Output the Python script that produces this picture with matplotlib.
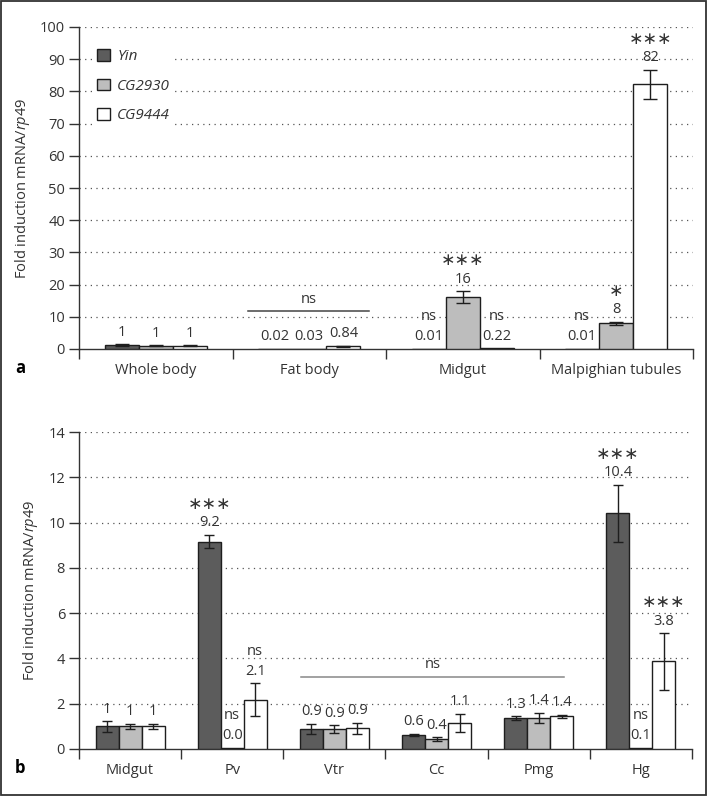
import matplotlib
matplotlib.use("Agg")
import matplotlib.pyplot as plt
from matplotlib.patches import Rectangle, Patch
import numpy as np

plt.rcParams['font.family'] = ['Open Sans', 'DejaVu Sans']
plt.rcParams['mathtext.fontset'] = 'custom'
plt.rcParams['mathtext.rm'] = 'Open Sans'
plt.rcParams['mathtext.it'] = 'Open Sans:italic'

series = ['Yin', 'CG2930', 'CG9444']
colors = ['#5c5c5c', '#bdbdbd', '#ffffff']

# Panel a
cats_a = ['Whole body', 'Fat body', 'Midgut', 'Malpighian tubules']
vals_a = [[1.3, 0.02, 0.01, 0.01],
          [1.0, 0.03, 16.1, 8.0],
          [1.0, 0.84, 0.22, 82.2]]
errs_a = [[0.25, 0.0, 0.0, 0.0],
          [0.15, 0.0, 1.8, 0.5],
          [0.15, 0.2, 0.0, 4.5]]
labels_a = [['1', '0.02', '0.01', '0.01'],
            ['1', '0.03', '16', '8'],
            ['1', '0.84', '0.22', '82']]
sig_a = [['', '', 'ns', 'ns'],
         ['', '', '***', '*'],
         ['', '', 'ns', '***']]
ns_line_a = (0.60, 1.39, 11.8)

# Panel b
cats_b = ['Midgut', 'Pv', 'Vtr', 'Cc', 'Pmg', 'Hg']
vals_b = [[1.0, 9.16, 0.9, 0.63, 1.37, 10.41],
          [1.0, 0.05, 0.88, 0.44, 1.37, 0.05],
          [1.0, 2.17, 0.92, 1.15, 1.45, 3.87]]
errs_b = [[0.23, 0.3, 0.22, 0.05, 0.07, 1.27],
          [0.12, 0.0, 0.17, 0.08, 0.23, 0.0],
          [0.11, 0.73, 0.25, 0.4, 0.07, 1.25]]
labels_b = [['1', '9.2', '0.9', '0.6', '1.3', '10.4'],
            ['1', '0.0', '0.9', '0.4', '1.4', '0.1'],
            ['1', '2.1', '0.9', '1.1', '1.4', '3.8']]
sig_b = [['', '***', '', '', '', '***'],
         ['', 'ns', '', '', '', 'ns'],
         ['', 'ns', '', '', '', '***']]
ns_line_b = (1.67, 4.25, 3.2)

W, H = 707, 796
fig = plt.figure(figsize=(W / 100, H / 100), dpi=100)

FS = 10.5
PX = 72 / 100  # points per pixel


def draw_panel(ax, cats, vals, errs, labels, sigs, width, ymax, ystep, capsize, nsline):
    n = len(cats)
    x = np.arange(n)
    offs = [-width, 0, width]
    for s in range(3):
        xs = x + offs[s]
        ax.bar(xs, vals[s], width, color=colors[s], edgecolor='#1e1e1e',
               linewidth=1.0, zorder=3, label=series[s])
        e = np.array(errs[s])
        m = e > 0
        ax.errorbar(xs[m], np.array(vals[s])[m], yerr=e[m], fmt='none',
                    ecolor='#1e1e1e', elinewidth=1.0, capsize=capsize,
                    capthick=1.0, zorder=4)
        for i in range(n):
            top = vals[s][i] + errs[s][i]
            ax.annotate(labels[s][i], xy=(xs[i], top), xytext=(0, 12 * PX),
                        textcoords='offset points', ha='center', va='center',
                        fontsize=FS, color='#333333', zorder=5)
            sg = sigs[s][i]
            if sg == 'ns':
                ax.annotate('ns', xy=(xs[i], top), xytext=(0, 32 * PX),
                            textcoords='offset points', ha='center', va='center',
                            fontsize=FS, color='#333333', zorder=5)
            elif sg:
                ax.annotate(sg.replace('*', '\u2217'), xy=(xs[i], top),
                            xytext=(0, 31 * PX), textcoords='offset points',
                            ha='center', va='center', fontsize=12.5,
                            family=['DejaVu Sans'], color='#333333', zorder=5)
    x0, x1, yl = nsline
    ax.plot([x0, x1], [yl, yl], color='#444444' if ymax > 50 else '#888888',
            lw=1.1, zorder=5)
    ax.annotate('ns', xy=((x0 + x1) / 2, yl), xytext=(0, 12 * PX),
                textcoords='offset points', ha='center', va='center',
                fontsize=FS, color='#333333')

    ax.set_xlim(-0.5, n - 0.5)
    ax.set_ylim(0, ymax)
    ax.set_yticks(np.arange(0, ymax + ystep / 2, ystep))
    ax.set_xticks(np.arange(-0.5, n, 1.0))
    ax.set_xticklabels([])
    ax.set_xticks(x, minor=True)
    ax.set_xticklabels(cats, minor=True, fontsize=FS, color='#333333')
    ax.tick_params(axis='x', which='minor', length=0, pad=10)
    ax.tick_params(axis='x', which='major', length=7, width=1.0, color='#333333')
    ax.tick_params(axis='y', length=7, width=1.0, color='#333333', pad=3,
                   labelsize=FS, labelcolor='#333333')
    for sp in ['top', 'right']:
        ax.spines[sp].set_visible(False)
    for sp in ['left', 'bottom']:
        ax.spines[sp].set_color('#333333')
        ax.spines[sp].set_linewidth(1.0)
    for yv in np.arange(ystep, ymax + ystep / 2, ystep):
        ax.axhline(yv, color='#555555', lw=0.9, ls=(0, (1, 3.5)), zorder=1)
    ax.set_ylabel('Fold induction mRNA/$\\mathit{rp49}$', fontsize=FS,
                  color='#333333', labelpad=6)


ax1 = fig.add_axes([79 / W, 1 - 349 / H, (693 - 79) / W, (349 - 27) / H])
draw_panel(ax1, cats_a, vals_a, errs_a, labels_a, sig_a, 0.222, 100, 10, 5, ns_line_a)

handles = [Patch(facecolor=colors[i], edgecolor='#1e1e1e', linewidth=1.0) for i in range(3)]
leg = ax1.legend(handles, series, loc='upper left', bbox_to_anchor=(0.01, 0.97),
                 frameon=True, fancybox=False, handlelength=0.8, handleheight=0.8,
                 handletextpad=0.5, labelspacing=0.95, borderpad=0.3,
                 prop={'style': 'italic', 'size': 11})
leg.get_frame().set_edgecolor('none')
leg.get_frame().set_facecolor('white')
leg.get_frame().set_alpha(1)
for t in leg.get_texts():
    t.set_color('#333333')

ax2 = fig.add_axes([79 / W, 1 - 749 / H, (692 - 79) / W, (749 - 432) / H])
draw_panel(ax2, cats_b, vals_b, errs_b, labels_b, sig_b, 0.225, 14, 2, 3.8, ns_line_b)

fig.text(15 / W, 1 - 368 / H, 'a', fontsize=12, fontweight='bold', ha='left', va='center')
fig.text(15 / W, 1 - 768 / H, 'b', fontsize=12, fontweight='bold', ha='left', va='center')

fig.patches.append(Rectangle((0.0015, 0.0015), 0.997, 0.997, transform=fig.transFigure,
                             fill=False, lw=1.3, ec='#333333'))

fig.savefig('out.png', dpi=100)
